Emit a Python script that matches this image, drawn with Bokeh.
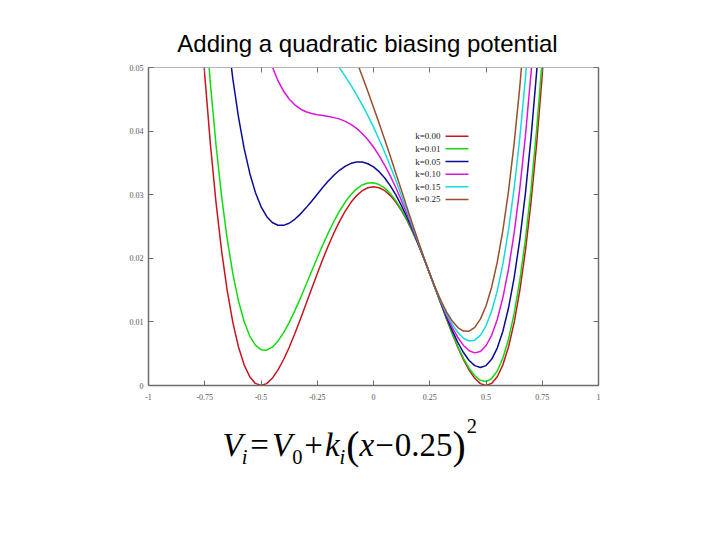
from bokeh.plotting import figure
from bokeh.models import LinearAxis, FixedTicker, Range1d
from bokeh.layouts import column
from bokeh.core.properties import value
from bokeh.embed import file_html
from bokeh.resources import INLINE

nan = float("nan")

# ---------------- data ----------------
x_grid = [-0.775, -0.75, -0.725, -0.7, -0.675, -0.65, -0.625, -0.6, -0.575, -0.55,
          -0.525, -0.5, -0.475, -0.45, -0.425, -0.4, -0.375, -0.35, -0.325, -0.3,
          -0.275, -0.25, -0.225, -0.2, -0.175, -0.15, -0.125, -0.1, -0.075, -0.05,
          -0.025, 0.0, 0.025, 0.05, 0.075, 0.1, 0.125, 0.15, 0.175, 0.2,
          0.225, 0.25, 0.275, 0.3, 0.325, 0.35, 0.375, 0.4, 0.425, 0.45,
          0.475, 0.5, 0.525, 0.55, 0.575, 0.6, 0.625, 0.65, 0.675, 0.7,
          0.725, 0.75, 0.775]

v_k000 = [0.06147, 0.04883, 0.03799, 0.02880, 0.02114, 0.01488, 0.00989, 0.00605, 0.00325, 0.00138,
          0.00033, 0.00000, 0.00030, 0.00113, 0.00241, 0.00405, 0.00598, 0.00813, 0.01042, 0.01280,
          0.01520, 0.01758, 0.01988, 0.02205, 0.02406, 0.02588, 0.02747, 0.02880, 0.02986, 0.03063,
          0.03109, 0.03125, 0.03109, 0.03063, 0.02986, 0.02880, 0.02747, 0.02588, 0.02406, 0.02205,
          0.01988, 0.01758, 0.01520, 0.01280, 0.01042, 0.00813, 0.00598, 0.00405, 0.00241, 0.00113,
          0.00030, 0.00000, 0.00033, 0.00138, 0.00325, 0.00605, 0.00989, 0.01488, 0.02114, 0.02880,
          0.03799, 0.04883, 0.06147]

v_k001 = [0.07198, 0.05883, 0.04750, 0.03783, 0.02970, 0.02298, 0.01755, 0.01328, 0.01006, 0.00778,
          0.00634, 0.00563, 0.00556, 0.00603, 0.00697, 0.00828, 0.00989, 0.01173, 0.01373, 0.01583,
          0.01796, 0.02008, 0.02214, 0.02408, 0.02587, 0.02748, 0.02888, 0.03003, 0.03092, 0.03153,
          0.03185, 0.03188, 0.03160, 0.03103, 0.03017, 0.02903, 0.02763, 0.02598, 0.02412, 0.02208,
          0.01989, 0.01758, 0.01521, 0.01283, 0.01048, 0.00823, 0.00614, 0.00428, 0.00272, 0.00153,
          0.00081, 0.00063, 0.00109, 0.00228, 0.00431, 0.00728, 0.01130, 0.01648, 0.02295, 0.03083,
          0.04025, 0.05133, 0.06423]

v_k005 = [nan, nan, nan, 0.07393, 0.06392, 0.05538, 0.04817, 0.04218, 0.03728, 0.03338,
          0.03036, 0.02813, 0.02658, 0.02563, 0.02519, 0.02518, 0.02551, 0.02613, 0.02695, 0.02793,
          0.02898, 0.03008, 0.03116, 0.03218, 0.03309, 0.03388, 0.03450, 0.03493, 0.03514, 0.03513,
          0.03487, 0.03438, 0.03362, 0.03263, 0.03139, 0.02993, 0.02825, 0.02638, 0.02434, 0.02218,
          0.01991, 0.01758, 0.01523, 0.01293, 0.01070, 0.00863, 0.00676, 0.00518, 0.00394, 0.00313,
          0.00283, 0.00313, 0.00411, 0.00588, 0.00853, 0.01218, 0.01692, 0.02288, 0.03017, 0.03893,
          0.04927, 0.06133, 0.07525]

v_k010 = [nan, nan, nan, nan, nan, nan, nan, 0.07830, 0.07131, 0.06538,
          0.06039, 0.05625, 0.05286, 0.05013, 0.04797, 0.04630, 0.04504, 0.04413, 0.04348, 0.04305,
          0.04276, 0.04258, 0.04244, 0.04230, 0.04212, 0.04188, 0.04153, 0.04105, 0.04042, 0.03963,
          0.03865, 0.03750, 0.03615, 0.03463, 0.03292, 0.03105, 0.02903, 0.02688, 0.02462, 0.02230,
          0.01994, 0.01758, 0.01526, 0.01305, 0.01098, 0.00913, 0.00754, 0.00630, 0.00547, 0.00513,
          0.00536, 0.00625, 0.00789, 0.01038, 0.01381, 0.01830, 0.02395, 0.03088, 0.03920, 0.04905,
          0.06055, 0.07383, nan]

v_k015 = [nan, nan, nan, nan, nan, nan, nan, nan, nan, nan,
          nan, nan, nan, nan, nan, 0.06743, 0.06457, 0.06213, 0.06001, 0.05818,
          0.05654, 0.05508, 0.05372, 0.05243, 0.05115, 0.04988, 0.04856, 0.04718, 0.04570, 0.04413,
          0.04243, 0.04063, 0.03868, 0.03663, 0.03445, 0.03218, 0.02981, 0.02738, 0.02490, 0.02243,
          0.01997, 0.01758, 0.01529, 0.01318, 0.01126, 0.00963, 0.00832, 0.00743, 0.00700, 0.00713,
          0.00789, 0.00938, 0.01167, 0.01488, 0.01909, 0.02443, 0.03098, 0.03888, 0.04823, 0.05918,
          0.07183, nan, nan]

v_k025 = [nan, nan, nan, nan, nan, nan, nan, nan, nan, nan,
          nan, nan, nan, nan, nan, nan, nan, nan, nan, nan,
          nan, nan, nan, nan, nan, nan, nan, 0.05330, 0.05099, 0.04863,
          0.04622, 0.04375, 0.04122, 0.03863, 0.03599, 0.03330, 0.03060, 0.02788, 0.02519, 0.02255,
          0.02001, 0.01758, 0.01533, 0.01330, 0.01155, 0.01013, 0.00911, 0.00855, 0.00854, 0.00913,
          0.01043, 0.01250, 0.01546, 0.01938, 0.02438, 0.03055, 0.03802, 0.04688, 0.05727, nan,
          nan, nan, nan]

series_labels = ["k=0.00", "k=0.01", "k=0.05", "k=0.10", "k=0.15", "k=0.25"]
series_values = [v_k000, v_k001, v_k005, v_k010, v_k015, v_k025]
series_colors = ["#c8141e", "#10dc10", "#0a0a96", "#dc14dc", "#14dcdc", "#96502a"]

x_ticks = [-1, -0.75, -0.5, -0.25, 0, 0.25, 0.5, 0.75, 1]
x_tick_labels = ["-1", "-0.75", "-0.5", "-0.25", "0", "0.25", "0.5", "0.75", "1"]
y_ticks = [0, 0.01, 0.02, 0.03, 0.04, 0.05]
y_tick_labels = ["0", "0.01", "0.02", "0.03", "0.04", "0.05"]

title_text = "Adding a quadratic biasing potential"

# ---------------- layout ----------------
PAGE_W = 720
TITLE_H = 59                 # title strip height (page px)
FL, FW, FH = 148, 450, 318   # frame left, width, height
FR = PAGE_W - FL - FW
TOP_B, BOT_B = 8, 26         # main figure borders
FORM_H = 90                  # formula strip height
BASE_FIX = 0.34              # baseline correction (fraction of font size)


def blank_fig(h, y_top):
    # frame aligned with the chart frame; coordinates are page pixels
    f = figure(frame_width=FW, frame_height=h, x_range=Range1d(FL, FL + FW),
               y_range=Range1d(y_top + h, y_top), x_axis_type=None, y_axis_type=None,
               output_backend="svg", toolbar_location=None,
               min_border_left=FL, min_border_right=FR, min_border_top=0, min_border_bottom=0)
    f.outline_line_color = None
    f.xgrid.visible = False
    f.ygrid.visible = False
    f.background_fill_color = "white"
    f.border_fill_color = "white"
    return f


# title strip
tfig = blank_fig(TITLE_H, 0)
tfig.text(x=[367], y=[51 - BASE_FIX * 24], text=[title_text], text_align="center",
          text_baseline="alphabetic", text_font=value("Liberation Sans"),
          text_font_size=value("24px"), text_color="black")

# main chart
p = figure(frame_width=FW, frame_height=FH,
           x_range=Range1d(-1, 1), y_range=Range1d(0, 0.05),
           output_backend="svg", toolbar_location=None,
           min_border_left=FL, min_border_top=TOP_B,
           min_border_right=FR, min_border_bottom=BOT_B)
p.background_fill_color = "white"
p.border_fill_color = "white"
p.outline_line_color = None
p.xgrid.visible = False
p.ygrid.visible = False

dark = "#6e6e6e"
light = "#b4b4b4"


def style_axis(ax, color, width, labels):
    ax.axis_line_color = color
    ax.axis_line_width = width
    ax.major_tick_line_color = dark
    ax.major_tick_line_width = 1
    ax.major_tick_in = 5
    ax.major_tick_out = 0
    ax.minor_tick_line_color = None
    ax.major_label_text_font = "Liberation Serif"
    ax.major_label_text_font_size = "8px"
    ax.major_label_text_color = "#555555"
    ax.major_label_overrides = labels


p.xaxis.ticker = FixedTicker(ticks=x_ticks)
p.yaxis.ticker = FixedTicker(ticks=y_ticks)
style_axis(p.xaxis[0], dark, 1.5, {t: s for t, s in zip(x_ticks, x_tick_labels)})
style_axis(p.yaxis[0], dark, 1.5, {t: s for t, s in zip(y_ticks, y_tick_labels)})
p.xaxis.major_label_standoff = 8
p.yaxis.major_label_standoff = 5

top_ax = LinearAxis(ticker=FixedTicker(ticks=x_ticks))
style_axis(top_ax, light, 1, {t: "" for t in x_ticks})
top_ax.major_label_text_font_size = "0px"
top_ax.major_label_standoff = 0
right_ax = LinearAxis(ticker=FixedTicker(ticks=y_ticks))
style_axis(right_ax, dark, 1.5, {t: "" for t in y_ticks})
right_ax.major_label_text_font_size = "0px"
right_ax.major_label_standoff = 0
p.add_layout(top_ax, "above")
p.add_layout(right_ax, "right")

# curves
for vals, col in zip(series_values, series_colors):
    p.line(x_grid, vals, line_color=col, line_width=1.5)

# key (gnuplot style: text then sample line), positioned in page pixels
FT = TITLE_H + TOP_B


def X(px):
    return -1 + (px - FL) * 2.0 / FW


def Y(py):
    return (FT + FH - py) * 0.05 / FH


key_text_right = 440
key_line_x0, key_line_x1 = 445, 468
key_top, key_step = 135.7, 12.65
key_y = [Y(key_top + i * key_step) for i in range(len(series_labels))]
p.text(x=[X(key_text_right)] * len(series_labels), y=key_y, text=series_labels,
       text_align="right", text_baseline="middle",
       text_font=value("Liberation Serif"), text_font_size=value("9px"),
       text_color="#222222")
p.segment(x0=[X(key_line_x0)] * len(series_labels), y0=key_y,
          x1=[X(key_line_x1)] * len(series_labels), y1=key_y,
          line_color=series_colors, line_width=1.5)

# formula strip:  V_i = V_0 + k_i (x - 0.25)^2
FORM_TOP = TITLE_H + TOP_B + FH + BOT_B
ffig = blank_fig(FORM_H, FORM_TOP)
F = 33
base = 456
pieces = [  # text, italic, scale, baseline shift (px), gap before (px), advance (em)
    ("V", True, 1.0, 0, 0, 0.611),
    ("i", True, 0.62, 7, -1, 0.278),
    ("=", False, 1.0, 0, 3, 0.564),
    ("V", True, 1.0, 0, 3, 0.611),
    ("0", False, 0.62, 7, 0, 0.5),
    ("+", False, 1.0, 0, 2, 0.564),
    ("k", True, 1.0, 0, 2, 0.444),
    ("i", True, 0.62, 7, 0, 0.278),
    ("(", False, 1.2, 3, 1, 0.333),
    ("x", True, 1.0, 0, 0, 0.444),
    ("\u2212", False, 1.0, 0, 1, 0.564),
    ("0.25", False, 1.0, 0, 1, 1.75),
    (")", False, 1.2, 3, 0, 0.333),
    ("2", False, 0.62, -24, 1, 0.5),
]
cx = 222
for txt, ital, sc, dy, gap, adv in pieces:
    cx += gap
    size = F * sc
    ffig.text(x=[cx], y=[base + dy - BASE_FIX * size], text=[txt], text_align="left",
              text_baseline="alphabetic", text_font=value("Liberation Serif"),
              text_font_style="italic" if ital else "normal",
              text_font_size=value(f"{size:.1f}px"), text_color="black")
    cx += adv * size

layout = column(tfig, p, ffig, spacing=0)
open("out.html", "w").write(file_html(layout, INLINE))
